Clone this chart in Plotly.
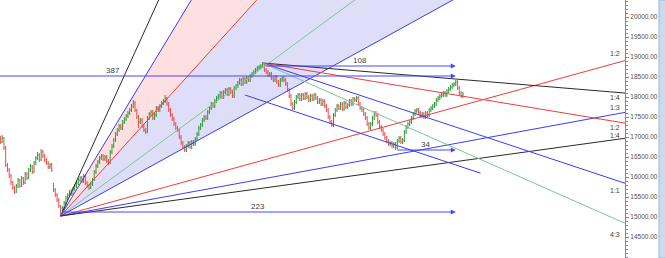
import plotly.graph_objects as go

# ---------------- data (bar index, prices) ----------------
bars = list(range(262))

open_ = [16950, 16875, 16975, 16725, 16300, 16175, 16025, 15875, 15725, 15625,
         15775, 15925, 15775, 15975, 15850, 16075, 15975, 16175, 16275, 16125,
         16350, 16475, 16550, 16425, 16625, 16525, 16425, 16350, 16250, 16300,
         15800, 15675, 15550, 15425, 15275, 15075, 15225, 15350, 15475, 15550,
         15625, 15575, 15700, 15775, 15850, 15925, 15975, 15900, 16025, 15850,
         15775, 15725, 15825, 15925, 16125, 16275, 16375, 16475, 16525, 16450,
         16500, 16400, 16350, 16625, 16775, 16925, 17075, 17175, 17275, 17225,
         17375, 17450, 17525, 17600, 17675, 17775, 17850, 17675, 17500, 17375,
         17425, 17275, 17175, 17125, 17475, 17575, 17625, 17475, 17550, 17725,
         17675, 17775, 17850, 17900, 17975, 17825, 17675, 17550, 17450, 17325,
         17225, 17175, 17000, 16850, 16750, 16675, 16775, 16850, 16750, 16875,
         16825, 16950, 17075, 17225, 17300, 17425, 17500, 17475, 17625, 17725,
         17825, 17775, 17900, 17975, 18025, 18100, 18000, 18125, 18175, 18075,
         18200, 18125, 18025, 18225, 18275, 18350, 18425, 18325, 18450, 18375,
         18475, 18425, 18525, 18575, 18625, 18675, 18725, 18750, 18775, 18825,
         18675, 18625, 18550, 18575, 18475, 18425, 18500, 18375, 18300, 18425,
         18475, 18425, 18325, 18175, 18025, 17825, 17725, 17875, 18000, 18050,
         17950, 18050, 17975, 18075, 18000, 17925, 18025, 17950, 18050, 17975,
         17875, 17925, 17825, 17900, 17775, 17675, 17500, 17375, 17300, 17550,
         17675, 17775, 17725, 17825, 17700, 17850, 17750, 17800, 17900, 17825,
         17950, 17925, 17975, 17825, 17725, 17675, 17575, 17475, 17325, 17225,
         17325, 17475, 17600, 17550, 17375, 17250, 17175, 17075, 16975, 16900,
         16825, 16850, 16775, 16825, 16725, 16900, 16975, 16875, 16925, 17125,
         17250, 17325, 17375, 17475, 17575, 17650, 17675, 17600, 17525, 17575,
         17500, 17600, 17550, 17675, 17725, 17775, 17825, 17925, 17975, 18025,
         18050, 18100, 18050, 18150, 18200, 18250, 18300, 18325, 18375, 18225,
         18100, 18025]

high = [17025, 17050, 17000, 16775, 16350, 16225, 16075, 15900, 15775, 15825,
        15975, 15950, 16025, 16000, 16125, 16125, 16225, 16325, 16300, 16400,
        16525, 16625, 16600, 16700, 16675, 16575, 16475, 16400, 16350, 16350,
        15850, 15725, 15600, 15475, 15300, 15275, 15400, 15525, 15600, 15675,
        15700, 15750, 15825, 15900, 15975, 16025, 16025, 16075, 16075, 15900,
        15825, 15875, 15975, 16175, 16325, 16425, 16525, 16575, 16575, 16550,
        16550, 16450, 16675, 16825, 16975, 17125, 17225, 17325, 17325, 17425,
        17500, 17575, 17650, 17725, 17825, 17925, 17900, 17700, 17550, 17475,
        17475, 17325, 17225, 17525, 17625, 17675, 17675, 17600, 17775, 17775,
        17825, 17900, 17950, 18050, 18000, 17875, 17725, 17600, 17500, 17375,
        17275, 17225, 17050, 16900, 16800, 16825, 16900, 16900, 16925, 16925,
        17000, 17125, 17275, 17350, 17475, 17550, 17550, 17675, 17775, 17875,
        17875, 17950, 18025, 18075, 18150, 18150, 18175, 18225, 18225, 18250,
        18250, 18175, 18275, 18325, 18400, 18475, 18475, 18500, 18500, 18525,
        18525, 18575, 18625, 18675, 18725, 18775, 18800, 18825, 18850, 18850,
        18725, 18675, 18625, 18625, 18525, 18550, 18550, 18425, 18475, 18525,
        18525, 18475, 18375, 18225, 18075, 17875, 17925, 18050, 18100, 18100,
        18100, 18100, 18125, 18125, 18050, 18075, 18075, 18100, 18100, 18025,
        17975, 17975, 17950, 17950, 17825, 17725, 17550, 17425, 17600, 17725,
        17825, 17825, 17875, 17875, 17900, 17900, 17850, 17950, 17950, 18000,
        18000, 18025, 18025, 17875, 17775, 17725, 17625, 17525, 17375, 17375,
        17525, 17650, 17650, 17600, 17425, 17300, 17225, 17125, 17025, 16950,
        16900, 16900, 16875, 16875, 16950, 17025, 17025, 16975, 17175, 17300,
        17375, 17425, 17525, 17625, 17700, 17725, 17725, 17650, 17625, 17625,
        17650, 17650, 17725, 17775, 17825, 17875, 17975, 18025, 18075, 18100,
        18150, 18150, 18200, 18250, 18300, 18350, 18375, 18425, 18425, 18275,
        18150, 18125]

low = [16825, 16850, 16675, 16250, 16125, 15975, 15800, 15675, 15575, 15600,
       15725, 15725, 15750, 15800, 15825, 15925, 15950, 16125, 16075, 16100,
       16300, 16425, 16375, 16400, 16475, 16375, 16300, 16200, 16200, 16125,
       15625, 15500, 15375, 15225, 15025, 15050, 15175, 15300, 15425, 15500,
       15525, 15550, 15650, 15725, 15800, 15875, 15850, 15850, 15800, 15725,
       15675, 15700, 15775, 15900, 16075, 16225, 16325, 16425, 16400, 16400,
       16350, 16300, 16325, 16575, 16725, 16875, 17025, 17125, 17175, 17175,
       17325, 17400, 17475, 17550, 17625, 17725, 17625, 17450, 17225, 17325,
       17225, 17125, 17075, 17100, 17425, 17525, 17425, 17425, 17500, 17625,
       17625, 17725, 17800, 17850, 17775, 17625, 17500, 17400, 17275, 17175,
       17125, 16950, 16800, 16700, 16625, 16625, 16725, 16700, 16700, 16775,
       16775, 16900, 17025, 17175, 17250, 17375, 17425, 17425, 17575, 17675,
       17725, 17725, 17850, 17925, 17975, 17950, 17950, 18075, 18025, 18025,
       18075, 17975, 17975, 18175, 18225, 18300, 18275, 18275, 18325, 18325,
       18375, 18375, 18475, 18525, 18575, 18625, 18675, 18700, 18725, 18625,
       18575, 18500, 18500, 18425, 18375, 18375, 18325, 18250, 18250, 18375,
       18375, 18275, 18125, 17975, 17775, 17675, 17675, 17825, 17950, 17900,
       17900, 17925, 17925, 17950, 17875, 17875, 17900, 17900, 17925, 17825,
       17825, 17775, 17775, 17725, 17625, 17450, 17325, 17250, 17250, 17500,
       17625, 17675, 17675, 17650, 17650, 17700, 17700, 17750, 17775, 17775,
       17875, 17875, 17775, 17675, 17625, 17525, 17425, 17275, 17175, 17175,
       17275, 17425, 17500, 17325, 17200, 17125, 17025, 16925, 16850, 16775,
       16775, 16725, 16725, 16675, 16700, 16850, 16825, 16825, 16875, 17075,
       17200, 17275, 17325, 17425, 17525, 17600, 17550, 17475, 17475, 17450,
       17450, 17500, 17500, 17625, 17675, 17725, 17775, 17875, 17925, 17975,
       18000, 18000, 18000, 18100, 18150, 18200, 18250, 18275, 18175, 18050,
       17975, 17975]

close = [16875, 16975, 16725, 16300, 16175, 16025, 15875, 15725, 15625, 15775,
         15925, 15775, 15975, 15850, 16075, 15975, 16175, 16275, 16125, 16350,
         16475, 16550, 16425, 16625, 16525, 16425, 16350, 16250, 16300, 16175,
         15675, 15550, 15425, 15275, 15075, 15225, 15350, 15475, 15550, 15625,
         15575, 15700, 15775, 15850, 15925, 15975, 15900, 16025, 15850, 15775,
         15725, 15825, 15925, 16125, 16275, 16375, 16475, 16525, 16450, 16500,
         16400, 16350, 16625, 16775, 16925, 17075, 17175, 17275, 17225, 17375,
         17450, 17525, 17600, 17675, 17775, 17850, 17675, 17500, 17375, 17425,
         17275, 17175, 17125, 17475, 17575, 17625, 17475, 17550, 17725, 17675,
         17775, 17850, 17900, 17975, 17825, 17675, 17550, 17450, 17325, 17225,
         17175, 17000, 16850, 16750, 16675, 16775, 16850, 16750, 16875, 16825,
         16950, 17075, 17225, 17300, 17425, 17500, 17475, 17625, 17725, 17825,
         17775, 17900, 17975, 18025, 18100, 18000, 18125, 18175, 18075, 18200,
         18125, 18025, 18225, 18275, 18350, 18425, 18325, 18450, 18375, 18475,
         18425, 18525, 18575, 18625, 18675, 18725, 18750, 18775, 18825, 18675,
         18625, 18550, 18575, 18475, 18425, 18500, 18375, 18300, 18425, 18475,
         18425, 18325, 18175, 18025, 17825, 17725, 17875, 18000, 18050, 17950,
         18050, 17975, 18075, 18000, 17925, 18025, 17950, 18050, 17975, 17875,
         17925, 17825, 17900, 17775, 17675, 17500, 17375, 17300, 17550, 17675,
         17775, 17725, 17825, 17700, 17850, 17750, 17800, 17900, 17825, 17950,
         17925, 17975, 17825, 17725, 17675, 17575, 17475, 17325, 17225, 17325,
         17475, 17600, 17550, 17375, 17250, 17175, 17075, 16975, 16900, 16825,
         16850, 16775, 16825, 16725, 16900, 16975, 16875, 16925, 17125, 17250,
         17325, 17375, 17475, 17575, 17650, 17675, 17600, 17525, 17575, 17500,
         17600, 17550, 17675, 17725, 17775, 17825, 17925, 17975, 18025, 18050,
         18100, 18050, 18150, 18200, 18250, 18300, 18325, 18375, 18225, 18100,
         18025, 18075]

# Gann fan 1 (from the swing low, rising)
fan1_anchor_bar = 34
fan1_anchor_price = 15025
fan1_unit = 24.4            # price per bar for the 1:1 line
fan1_ratios = [4, 3, 2, 4 / 3, 1, 1 / 2, 1 / 3, 1 / 4]
fan1_colors = ["#2a2a2a", "#3c3cf0", "#f03c3c", "#7cc49a", "#3c3cf0", "#f03c3c", "#3c3cf0", "#2a2a2a"]
fan1_edge_labels = ["", "", "", "", "", "1:2", "1:3", "1:4"]
fan1_label_shift = [0, 0, 0, 0, 0, 7, 5, 3]

# Gann fan 2 (from the swing high, falling)
fan2_anchor_bar = 148
fan2_anchor_price = 18850
fan2_unit = 14.7
fan2_ratios = [1 / 4, 1 / 2, 1, 4 / 3]
fan2_colors = ["#2a2a2a", "#f03c3c", "#3c3cf0", "#7cc49a"]
fan2_edge_labels = ["1:4", "1:2", "1:1", "4:3"]
fan2_label_shift = [-4, -4, -7, -11]

# channel line parallel to fan 2 1:1
channel_start_bar = 138
channel_start_price = 18050
channel_end_bar = 271

# horizontal bar-count arrows
arrow_labels = ["387", "108", "223", "34"]
arrow_start_bars = [-130, 149, 34, 223]
arrow_end_bar = 257
arrow_prices = [18525, 18775, 15125, 16675]

x_min, x_max = -0.2, 352.5
y_min, y_max = 13975, 20425
y_ticks = [14500, 15000, 15500, 16000, 16500, 17000, 17500, 18000, 18500, 19000, 19500, 20000]

# ---------------- figure ----------------
fig = go.Figure()


def fan_price(anchor_bar, anchor_price, slope, bar):
    return anchor_price + slope * (bar - anchor_bar)


shapes = []
# shaded zones in fan 1 (3:1 - 2:1 pink, 2:1 - 1:1 lavender), drawn beneath the bars
zones = [(1, 2, "#ffe0e0"), (2, 4, "#dedef9")]
for a, b, col in zones:
    ya = fan_price(fan1_anchor_bar, fan1_anchor_price, fan1_unit * fan1_ratios[a], x_max)
    yb = fan_price(fan1_anchor_bar, fan1_anchor_price, fan1_unit * fan1_ratios[b], x_max)
    path = (f"M {fan1_anchor_bar},{fan1_anchor_price} L {x_max},{ya} "
            f"L {x_max},{yb} Z")
    shapes.append(dict(type="path", xref="x", yref="y", path=path, fillcolor=col,
                       line=dict(width=0), layer="below"))

shapes.append(dict(type="rect", xref="paper", yref="paper", x0=659 / 625, x1=1.08,
                   y0=0, y1=1, fillcolor="#c8dcf0", line=dict(color="#9ab8dc", width=1),
                   layer="below"))

annotations = []

# fan 1 lines
for r, col, lab, sh in zip(fan1_ratios, fan1_colors, fan1_edge_labels, fan1_label_shift):
    s = fan1_unit * r
    yend = fan_price(fan1_anchor_bar, fan1_anchor_price, s, x_max)
    fig.add_trace(go.Scatter(x=[fan1_anchor_bar, x_max], y=[fan1_anchor_price, yend],
                             mode="lines", line=dict(color=col, width=1),
                             hoverinfo="skip", showlegend=False))
    if lab:
        annotations.append(dict(x=x_max - 1.5, y=yend, text=lab, showarrow=False,
                                xanchor="right", yanchor="middle", yshift=sh,
                                font=dict(size=7, color="#404040")))

# fan 2 lines
for r, col, lab, sh in zip(fan2_ratios, fan2_colors, fan2_edge_labels, fan2_label_shift):
    s = -fan2_unit * r
    yend = fan_price(fan2_anchor_bar, fan2_anchor_price, s, x_max)
    fig.add_trace(go.Scatter(x=[fan2_anchor_bar, x_max], y=[fan2_anchor_price, yend],
                             mode="lines", line=dict(color=col, width=1),
                             hoverinfo="skip", showlegend=False))
    if lab:
        annotations.append(dict(x=x_max - 1.5, y=yend, text=lab, showarrow=False,
                                xanchor="right", yanchor="middle", yshift=sh,
                                font=dict(size=7, color="#404040")))

# channel line
fig.add_trace(go.Scatter(
    x=[channel_start_bar, channel_end_bar],
    y=[channel_start_price,
       fan_price(channel_start_bar, channel_start_price, -fan2_unit, channel_end_bar)],
    mode="lines", line=dict(color="#3c3cf0", width=1), hoverinfo="skip", showlegend=False))

# price bars (on top of the fan lines)
fig.add_trace(go.Ohlc(x=bars, open=open_, high=high, low=low, close=close,
                      increasing=dict(line=dict(color="#2f9a3a", width=1)),
                      decreasing=dict(line=dict(color="#f04a4a", width=1)),
                      tickwidth=0.4, showlegend=False, hoverinfo="skip"))

# arrows + labels
for lab, sb, p in zip(arrow_labels, arrow_start_bars, arrow_prices):
    annotations.append(dict(x=arrow_end_bar, y=p, ax=sb, ay=p, xref="x", yref="y",
                            axref="x", ayref="y", text="", showarrow=True,
                            arrowhead=2, arrowsize=1, arrowwidth=1, arrowcolor="#4646ff"))
    annotations.append(dict(x=(sb + arrow_end_bar) / 2, y=p, text=lab, showarrow=False,
                            yanchor="bottom", yshift=-1,
                            font=dict(size=8, color="#404040")))

fig.update_layout(
    width=665, height=258,
    margin=dict(l=0, r=40, t=0, b=0, pad=0),
    paper_bgcolor="white", plot_bgcolor="white",
    font=dict(family="Liberation Sans, Arial, sans-serif"),
    showlegend=False,
    annotations=annotations,
    shapes=shapes,
    xaxis=dict(range=[x_min, x_max], visible=False, showgrid=False, zeroline=False,
               rangeslider=dict(visible=False)),
    yaxis=dict(range=[y_min, y_max], side="right", showgrid=False, zeroline=False,
               tickvals=y_ticks, tickformat=".2f", ticks="outside", ticklen=3,
               tickcolor="#8080c8", showline=True, linecolor="#8080c8", linewidth=1,
               tickfont=dict(size=6.5, color="#505050"),
               minor=dict(dtick=100, ticks="outside", ticklen=2, tickcolor="#8080c8")),
)

fig.write_html("out.html")
